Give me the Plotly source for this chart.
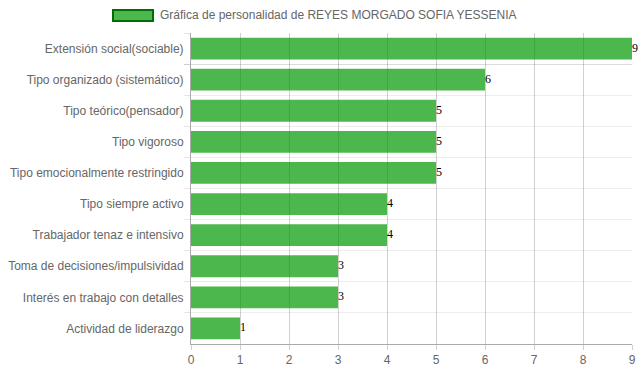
import plotly.graph_objects as go

categories = [
    "Extensión social(sociable)",
    "Tipo organizado (sistemático)",
    "Tipo teórico(pensador)",
    "Tipo vigoroso",
    "Tipo emocionalmente restringido",
    "Tipo siempre activo",
    "Trabajador tenaz e intensivo",
    "Toma de decisiones/impulsividad",
    "Interés en trabajo con detalles",
    "Actividad de liderazgo",
]
values = [9, 6, 5, 5, 5, 4, 4, 3, 3, 1]
series_name = "Gráfica de personalidad de REYES MORGADO SOFIA YESSENIA"
x_ticks = [0, 1, 2, 3, 4, 5, 6, 7, 8, 9]

bar_fill = "rgba(0,153,0,0.7)"

W, H = 639, 372
L, R, T, B = 191, 7, 33, 28
PW, PH = W - L - R, H - T - B

def px(xf):
    return (xf - L) / PW

def py(yf):
    return (H - B - yf) / PH

fig = go.Figure()
fig.add_trace(go.Bar(
    x=values, y=categories, orientation="h",
    marker=dict(color=bar_fill, line=dict(width=0)),
    name=series_name, showlegend=False, hoverinfo="x+y",
))

annotations = [dict(
    x=v, y=c, xref="x", yref="y", text=str(v), showarrow=False,
    xanchor="left", yanchor="middle", xshift=-2, yshift=1,
    font=dict(family="Liberation Serif", size=12, color="#000"),
) for c, v in zip(categories, values)]

annotations.append(dict(
    xref="paper", yref="paper", x=px(158), y=py(15),
    xanchor="left", yanchor="middle", showarrow=False,
    text=series_name, font=dict(size=12, color="#666"),
))

fig.update_layout(
    width=W, height=H,
    margin=dict(l=L, r=R, t=T, b=B, autoexpand=False),
    paper_bgcolor="white", plot_bgcolor="white",
    bargap=0.3,
    font=dict(family="Liberation Sans", size=12, color="#666"),
    xaxis=dict(
        range=[0, 9], tickvals=x_ticks, showgrid=True, automargin=False,
        gridcolor="rgba(0,0,0,0.18)", gridwidth=1,
        ticks="outside", ticklen=5, tickcolor="rgba(0,0,0,0.18)",
        showline=True, linecolor="#aaa", linewidth=1,
        zeroline=False, tickfont=dict(size=12, color="#666"),
    ),
    yaxis=dict(
        autorange="reversed", type="category", tickson="boundaries",
        automargin=False, ticklabelstandoff=4,
        showgrid=True, gridcolor="rgba(0,0,0,0.07)", gridwidth=1,
        ticks="outside", ticklen=6, tickcolor="rgba(0,0,0,0.1)",
        showline=True, linecolor="#aaa", linewidth=1,
        tickfont=dict(size=12, color="#666"),
    ),
    shapes=[dict(
        type="rect", xref="paper", yref="paper",
        x0=px(113), x1=px(153), y0=py(21), y1=py(10),
        fillcolor=bar_fill, line=dict(color="rgb(0,110,0)", width=2),
    )],
    annotations=annotations,
)

fig.write_html(
    "out.html",
    config={"displayModeBar": False},
    post_script="document.body.style.margin='0';document.body.style.overflow='hidden';",
)
